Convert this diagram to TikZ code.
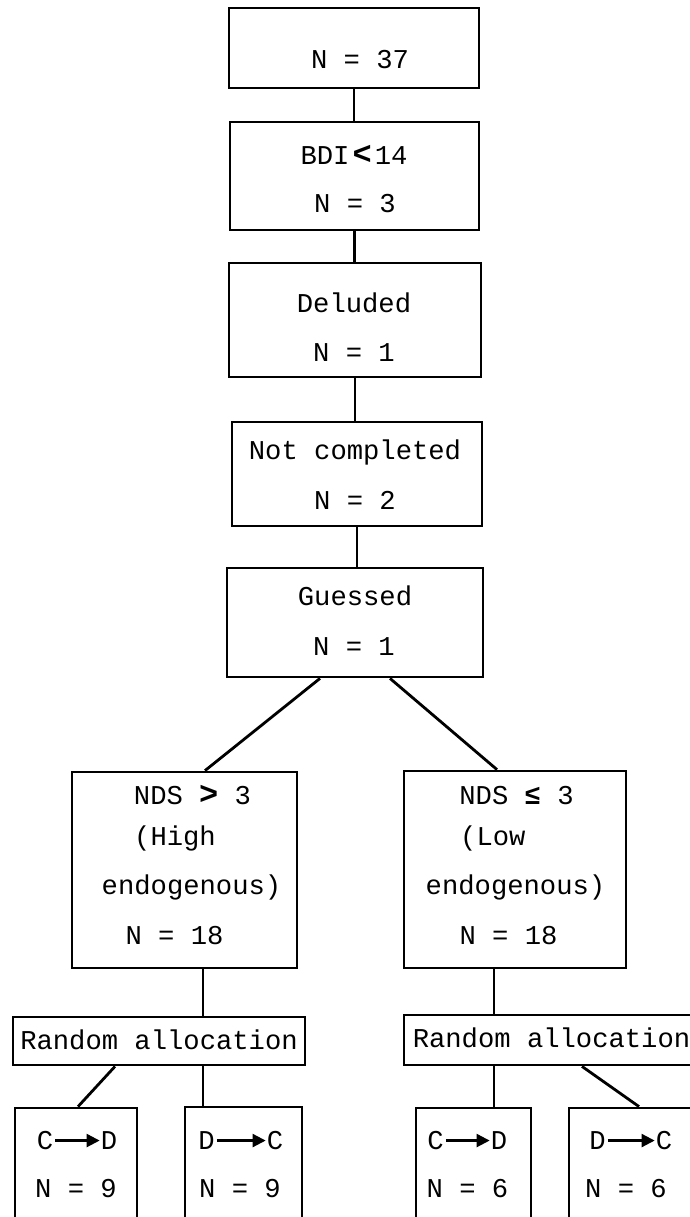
\documentclass[tikz,border=0pt]{standalone}
\usepackage{fontspec}
\setmainfont{Liberation Mono}
\usetikzlibrary{calc,arrows.meta}
\tikzset{
  box/.style={draw, line width=2.8pt, inner sep=0pt},
  conn/.style={line width=2.8pt},
  txt/.style={inner sep=0pt, anchor=base, font=\fontsize{27.2}{32}\selectfont},
  txtw/.style={txt, anchor=base west},
  arr/.style={line width=2.2pt, -{Triangle[length=13pt,width=13pt]}, shorten <=2pt, shorten >=1pt}
}
\begin{document}
\begin{tikzpicture}[x=1pt,y=-1pt]
\useasboundingbox (0,0) rectangle (689,1217);
\fill[white] (0,0) rectangle (689,1217);
% boxes
\node[box, minimum width=250pt, minimum height=80pt]  (b1) at (354,48) {};
\node[box, minimum width=249pt, minimum height=108pt] (b2) at (354.5,176) {};
\node[box, minimum width=252pt, minimum height=114pt] (b3) at (355,320) {};
\node[box, minimum width=250pt, minimum height=104pt] (b4) at (357,474) {};
\node[box, minimum width=256pt, minimum height=109pt] (b5) at (355,622.5) {};
\node[box, minimum width=225pt, minimum height=196pt] (nL) at (184.5,870) {};
\node[box, minimum width=222pt, minimum height=197pt] (nR) at (515,869.5) {};
\node[box, minimum width=292pt, minimum height=48pt]  (rL) at (159,1041) {};
\node[box, minimum width=296pt, minimum height=50pt]  (rR) at (552,1040) {};
\node[box, minimum width=122pt, minimum height=110pt] (bL1) at (76,1163) {};
\node[box, minimum width=117pt, minimum height=111pt] (bL2) at (243.5,1162.5) {};
\node[box, minimum width=115pt, minimum height=110pt] (bR1) at (473.5,1163) {};
\node[box, minimum width=131pt, minimum height=110pt] (bR2) at (634.5,1163) {};
% texts
\node[txt] (t1)  at (360,68.5)  {N = 37};
\node[txt] (t2a) at (354,164.5) {BDI\kern3pt{\bfseries\fontsize{32}{32}\selectfont<}\kern3pt14};
\node[txt] (t2b) at (355,212.5) {N = 3};
\node[txt] (t3a) at (354,312.5) {Deluded};
\node[txt] (t3b) at (354,361.5) {N = 1};
\node[txt] (t4a) at (355,459.5) {Not completed};
\node[txt] (t4b) at (355,509.5) {N = 2};
\node[txt] (t5a) at (355,605.5) {Guessed};
\node[txt] (t5b) at (354,655.5) {N = 1};
\node[txt]  (l1) at (192.5,804.5) {NDS {\bfseries\fontsize{32}{32}\selectfont>} 3};
\node[txtw] (l2) at (134,845.5) {(High};
\node[txt]  (l3) at (191.5,894.5) {endogenous)};
\node[txt]  (l4) at (174.5,944.5) {N = 18};
\node[txt]  (r1) at (516.5,804.5) {NDS {\bfseries ≤} 3};
\node[txtw] (r2) at (460,845.5) {(Low};
\node[txt]  (r3) at (515.5,894.5) {endogenous)};
\node[txt]  (r4) at (508.5,944.5) {N = 18};
\node[txt] (ra1) at (159,1049.5) {Random allocation};
\node[txt] (ra2) at (551.5,1047.5) {Random allocation};
% bottom texts
\node[txt] (cL1) at (45,1149.5) {C};
\node[txt] (dL1) at (109,1149.5) {D};
\node[txt] (nL1) at (76,1197.5) {N = 9};
\node[txt] (dL2) at (206.5,1149.5) {D};
\node[txt] (cL2) at (275,1149.5) {C};
\node[txt] (nL2) at (240,1197.5) {N = 9};
\node[txt] (cR1) at (435.5,1149.5) {C};
\node[txt] (dR1) at (499,1149.5) {D};
\node[txt] (nR1) at (467.5,1197.5) {N = 6};
\node[txt] (dR2) at (597.5,1149.5) {D};
\node[txt] (cR2) at (664,1149.5) {C};
\node[txt] (nR2) at (626,1197.5) {N = 6};
\draw[arr] (cL1.east) -- (cL1.east -| dL1.west);
\draw[arr] (dL2.east) -- (dL2.east -| cL2.west);
\draw[arr] (cR1.east) -- (cR1.east -| dR1.west);
\draw[arr] (dR2.east) -- (dR2.east -| cR2.west);
% connectors
\draw[conn] (b1.south) -- (b1.south |- b2.north);
\draw[conn] (b2.south) -- (b2.south |- b3.north);
\draw[conn] (b3.south) -- (b3.south |- b4.north);
\draw[conn] (b4.south) -- (b4.south |- b5.north);
\draw[conn] ($(b5.south)+(-35,0)$) -- ($(nL.north)+(20.5,0)$);
\draw[conn] ($(b5.south)+(35,0)$) -- ($(nR.north)+(-18,0)$);
\draw[conn] ($(nL.south)+(18.5,0)$) coordinate (k1) -- (k1 |- rL.north);
\draw[conn] ($(nR.south)+(-21,0)$) coordinate (k2) -- (k2 |- rR.north);
\draw[conn] ($(rL.south)+(-44,0)$) -- ($(bL1.north)+(2,0)$);
\draw[conn] ($(rL.south)+(44,0)$) coordinate (k3) -- (k3 |- bL2.north);
\draw[conn] ($(rR.south)+(-58,0)$) coordinate (k4) -- (k4 |- bR1.north);
\draw[conn] ($(rR.south)+(30,0)$) -- ($(bR2.north)+(4.5,0)$);
\end{tikzpicture}
\end{document}
